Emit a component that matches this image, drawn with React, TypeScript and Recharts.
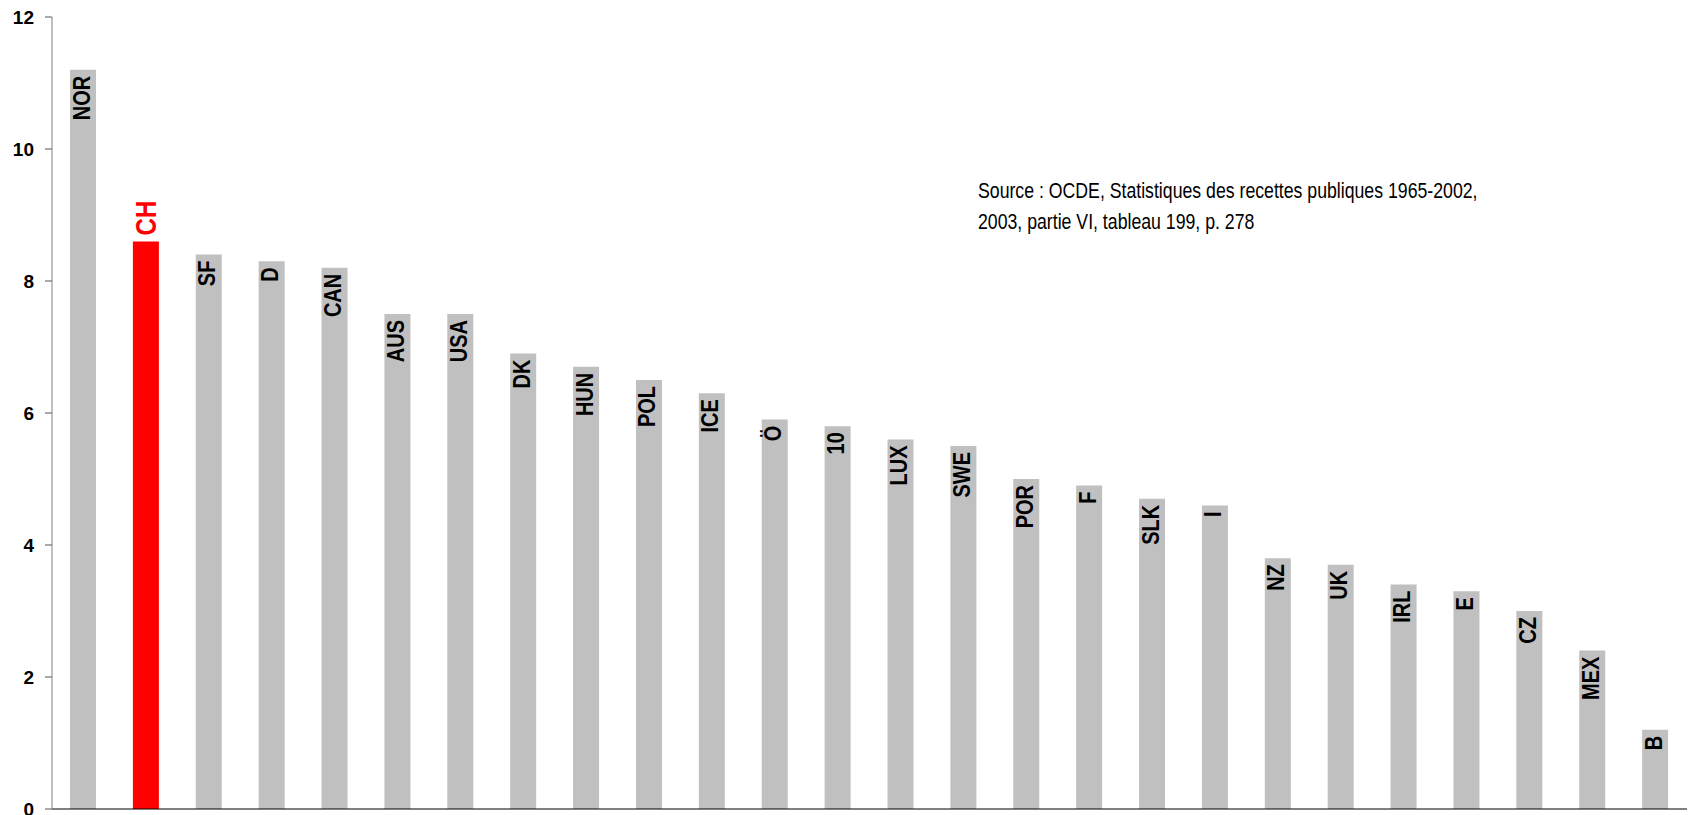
import { Bar, BarChart, Cell, LabelList, XAxis, YAxis } from 'recharts'

const COUNTRIES = [
  'NOR', 'CH', 'SF', 'D', 'CAN', 'AUS', 'USA', 'DK', 'HUN', 'POL', 'ICE', 'Ö', '10',
  'LUX', 'SWE', 'POR', 'F', 'SLK', 'I', 'NZ', 'UK', 'IRL', 'E', 'CZ', 'MEX', 'B',
]
const VALUES = [
  11.2, 8.6, 8.4, 8.3, 8.2, 7.5, 7.5, 6.9, 6.7, 6.5, 6.3, 5.9, 5.8,
  5.6, 5.5, 5.0, 4.9, 4.7, 4.6, 3.8, 3.7, 3.4, 3.3, 3.0, 2.4, 1.2,
]
const Y_TICKS = [0, 2, 4, 6, 8, 10, 12]
const HIGHLIGHT = 'CH'
const SOURCE_LINES = [
  'Source : OCDE, Statistiques des recettes publiques 1965-2002,',
  '2003, partie VI, tableau 199, p. 278',
]

const W = 1694
const H = 815
const FONT = '"Liberation Sans", Arial, sans-serif'

const data = COUNTRIES.map((name, i) => ({ name, value: VALUES[i] }))

function BarLabel(props: any) {
  const { x, y, width, value } = props
  const cx = x + width / 2
  if (value === HIGHLIGHT) {
    return (
      <text
        transform={`translate(${cx + 10},${y - 6}) rotate(-90) scale(1,1.2)`}
        textAnchor="start"
        fill="#ff0000"
        fontSize={24}
        fontWeight="bold"
        fontFamily={FONT}
      >
        {value}
      </text>
    )
  }
  return (
    <text
      transform={`translate(${cx + 6.5},${y + 6}) rotate(-90) scale(1,1.2)`}
      textAnchor="end"
      fill="#000"
      fontSize={20}
      fontWeight="bold"
      fontFamily={FONT}
    >
      {value}
    </text>
  )
}

// category ticks sit on the boundaries between bars, not under them
function BoundaryTick(props: any) {
  const { x, y, index, visibleTicksCount } = props
  const band = (W - 52 - 7) / COUNTRIES.length
  const left = x - band / 2
  return (
    <g>
      <line x1={left} x2={left} y1={y} y2={y + 4} stroke="#000" />
      {index === visibleTicksCount - 1 && (
        <line x1={left + band} x2={left + band} y1={y} y2={y + 4} stroke="#000" />
      )}
    </g>
  )
}

export default function App() {
  return (
    <div style={{ position: 'absolute', left: 0, top: 0, width: W, height: H, background: '#fff' }}>
      <BarChart
        width={W}
        height={H}
        data={data}
        margin={{ top: 17, right: 7, bottom: 0, left: 0 }}
        barSize={26}
      >
        <XAxis
          dataKey="name"
          height={6}
          interval={0}
          axisLine={{ stroke: '#000' }}
          tickLine={false}
          tick={<BoundaryTick />}
        />
        <YAxis
          width={52}
          domain={[0, 12]}
          ticks={Y_TICKS}
          interval={0}
          axisLine={{ stroke: '#808080' }}
          tickLine={{ stroke: '#555' }}
          tickSize={7}
          tickMargin={11}
          tick={{ fill: '#000', fontSize: 19, fontWeight: 'bold', fontFamily: FONT }}
        />
        <Bar dataKey="value" isAnimationActive={false}>
          {data.map((d) => (
            <Cell key={d.name} fill={d.name === HIGHLIGHT ? '#ff0000' : '#c0c0c0'} />
          ))}
          <LabelList dataKey="name" content={<BarLabel />} />
        </Bar>
      </BarChart>
      <div
        style={{
          position: 'absolute',
          left: 978,
          top: 176,
          fontFamily: FONT,
          fontSize: 17.7,
          lineHeight: '25.8px',
          color: '#000',
          whiteSpace: 'nowrap',
          transform: 'scale(1, 1.2)',
          transformOrigin: '0 0',
        }}
      >
        {SOURCE_LINES.map((l) => (
          <div key={l}>{l}</div>
        ))}
      </div>
    </div>
  )
}
